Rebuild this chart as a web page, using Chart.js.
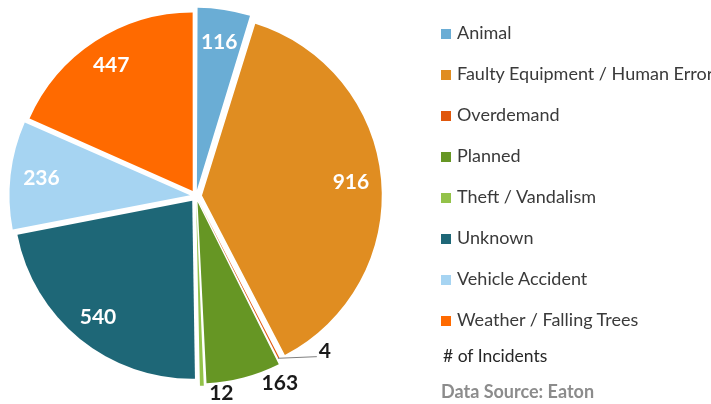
<!DOCTYPE html>
<html>
<head>
<meta charset="utf-8">
<script src="https://cdn.jsdelivr.net/npm/chart.js@4"></script>
<style>
    html, body { margin: 0; padding: 0; background: #ffffff; }
    #wrap { position: relative; width: 711px; height: 404px; overflow: hidden; }
    #legend { position: absolute; left: 0; top: 0; font-family: Lato, sans-serif; }
    .item { position: absolute; left: 441px; height: 20px; line-height: 20px; white-space: nowrap; font-size: 18px; color: #3a3a3a; }
    .item span.box { display: inline-block; width: 10px; height: 10px; margin-right: 6px; vertical-align: 0px; }
    .note { position: absolute; white-space: nowrap; font-family: Lato, sans-serif; }
</style>
</head>
<body>
<div id="wrap">
    <canvas id="pie" width="711" height="404"></canvas>
    <div id="legend"></div>
    <div class="note" style="left:443px; top:345px; font-size:17.5px; color:#262626;"># of Incidents</div>
    <div class="note" style="left:441px; top:380px; font-size:18px; font-weight:bold; color:#8c8c8c;">Data Source: Eaton</div>
</div>
<script>
    // Outage causes
    const causes = [
        'Animal', 'Faulty Equipment / Human Error', 'Overdemand', 'Planned',
        'Theft / Vandalism', 'Unknown', 'Vehicle Accident', 'Weather / Falling Trees',
    ];
    const incidents = [116, 916, 4, 163, 12, 540, 236, 447];
    const colors = [
        '#6aadd5', '#e08d21', '#e0570c', '#669624',
        '#93c249', '#1e6777', '#a6d4f2', '#ff6a00',
    ];

    // labels of tiny slices sit outside, nudged a bit (px)
    const outside = [false, false, true, true, true, false, false, false];
    const nudge = [[0, 0], [0, 0], [36, -26], [32, -10], [19, -7], [0, 0], [0, 0], [0, 0]];

    // Build legend
    const legend = document.getElementById('legend');
    causes.forEach((cause, i) => {
        const div = document.createElement('div');
        div.className = 'item';
        div.style.top = (22 + i * 41) + 'px';
        div.innerHTML = '<span class="box" style="background:' + colors[i] + '"></span>' + cause;
        legend.appendChild(div);
    });

    // Draw values on the slices
    const valueLabels = {
        id: 'valueLabels',
        afterDatasetsDraw(chart) {
            const ctx = chart.ctx;
            const arcs = chart.getDatasetMeta(0).data;
            ctx.save();
            ctx.textAlign = 'center';
            ctx.textBaseline = 'middle';
            ctx.font = 'bold 21px Lato';
            arcs.forEach((arc, i) => {
                const mid = (arc.startAngle + arc.endAngle) / 2;
                const shift = (arc.options.offset || 0) / 4;
                const r = arc.outerRadius;
                if (!outside[i]) {
                    const d = r * 0.84 + shift;
                    ctx.fillStyle = '#ffffff';
                    ctx.fillText(incidents[i], arc.x + Math.cos(mid) * d, arc.y + Math.sin(mid) * d);
                } else {
                    const d = r + 26;
                    const lx = arc.x + Math.cos(mid) * d + nudge[i][0];
                    const ly = arc.y + Math.sin(mid) * d + nudge[i][1];
                    if (i === 2) {
                        // leader line for the thinnest slice
                        const ex = arc.x + Math.cos(mid) * (r + shift);
                        const ey = arc.y + Math.sin(mid) * (r + shift);
                        ctx.strokeStyle = '#7f7f7f';
                        ctx.lineWidth = 1;
                        ctx.beginPath();
                        ctx.moveTo(ex, ey + 2);
                        ctx.lineTo(lx - 8, ly + 5);
                        ctx.stroke();
                    }
                    ctx.fillStyle = '#1a1a1a';
                    ctx.fillText(incidents[i], lx, ly);
                }
            });
            ctx.restore();
        },
    };

    new Chart(document.getElementById('pie'), {
        type: 'pie',
        data: {
            labels: causes,
            datasets: [{
                data: incidents,
                backgroundColor: colors,
                borderWidth: 0,
                offset: [24, 24, 8, 24, 24, 24, 24, 24],
            }],
        },
        options: {
            responsive: false,
            animation: false,
            radius: 178,
            layout: { padding: { left: 2, top: 0, right: 321, bottom: 12 } },
            plugins: {
                legend: { display: false },
                tooltip: { enabled: false },
            },
            events: [],
        },
        plugins: [valueLabels],
    });
</script>
</body>
</html>
